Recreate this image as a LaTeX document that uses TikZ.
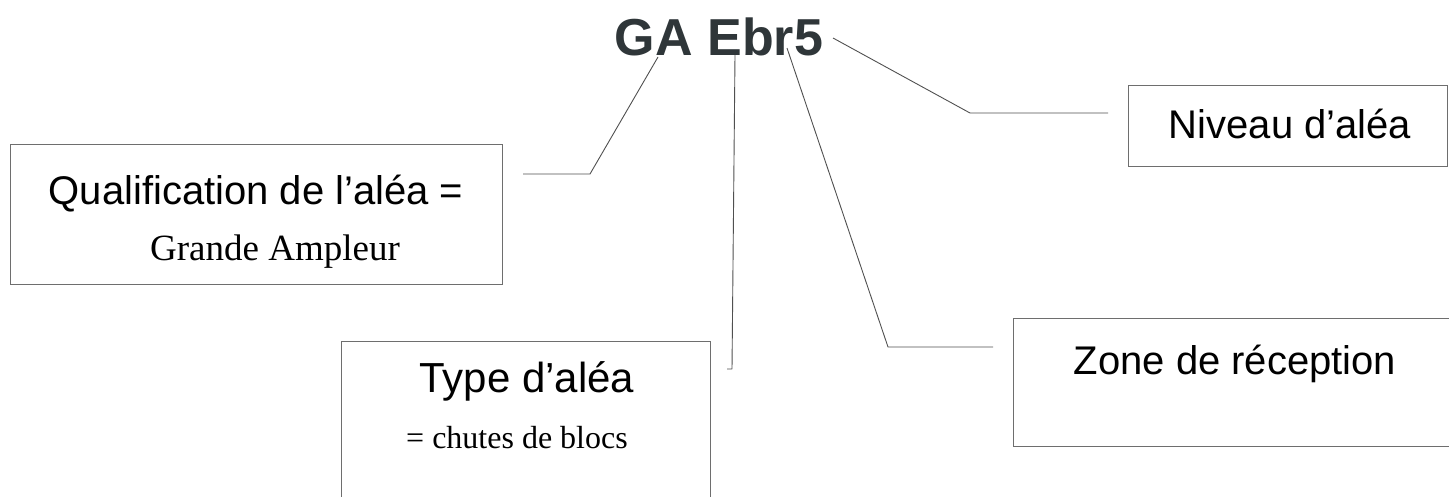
\documentclass[tikz,border=0pt]{standalone}
\usepackage{fontspec}
\setmainfont{Liberation Serif}
\setsansfont{Liberation Sans}
\usetikzlibrary{positioning}
\definecolor{titre}{HTML}{2F3639}
\definecolor{trait}{HTML}{505050}
\definecolor{bord}{HTML}{6E6E6E}

\begin{document}
\begin{tikzpicture}[x=1pt, y=-1pt,
    boite/.style={draw=bord, line width=1.1pt, anchor=north west, inner sep=0pt},
    etiq/.style={font=\sffamily\fontsize{40}{48}\selectfont, anchor=base, inner sep=0pt},
    sous/.style={font=\rmfamily\fontsize{37}{44}\selectfont, anchor=base, inner sep=0pt},
    lien/.style={draw=trait, line width=0.9pt, line join=round}]
    \useasboundingbox (0,0) rectangle (1449,496);

    % code de l'alea
    \node[font=\sffamily\bfseries\fontsize{52}{60}\selectfont, text=titre,
          anchor=base, inner sep=0pt] (code) at (719,55) {GA Ebr5};

    % cadres
    \node[boite, minimum width=492pt, minimum height=140pt] (qualif) at (10,144) {};
    \node[boite, minimum width=369pt, minimum height=165pt] (type) at (341,341) {};
    \node[boite, minimum width=445pt, minimum height=128pt] (zone) at (1013,318) {};
    \node[boite, minimum width=319pt, minimum height=81pt] (niveau) at (1128,85) {};

    % textes
    \node[etiq] (qualifA) at (256,204) {Qualification de l’aléa =};
    \node[sous] (qualifB) at (275,260) {Grande Ampleur};
    \node[etiq, font=\sffamily\fontsize{42}{50}\selectfont] (typeA) at (527,392) {Type d’aléa};
    \node[sous, font=\rmfamily\fontsize{32}{38}\selectfont] (typeB) at (517,448) {= chutes de blocs};
    \node[etiq] (zoneA) at (1235,374) {Zone de réception};
    \node[etiq] (niveauA) at (1290,138) {Niveau d’aléa};

    % traits de rappel
    \coordinate (pA) at (658,57);  \coordinate (cA) at (590,174); \coordinate (fA) at (523,174);
    \coordinate (pE) at (735,55);  \coordinate (cE) at (732,369); \coordinate (fE) at (727,369);
    \coordinate (pR) at (787,48);  \coordinate (cR) at (888,347); \coordinate (fR) at (993,347);
    \coordinate (pN) at (833,38);  \coordinate (cN) at (970,113); \coordinate (fN) at (1108,113);
    \draw[lien] (pA) -- (cA) -- (fA);
    \draw[lien] (pE) -- (cE) -- (fE);
    \draw[lien] (pR) -- (cR) -- (fR);
    \draw[lien] (pN) -- (cN) -- (fN);
\end{tikzpicture}
\end{document}
